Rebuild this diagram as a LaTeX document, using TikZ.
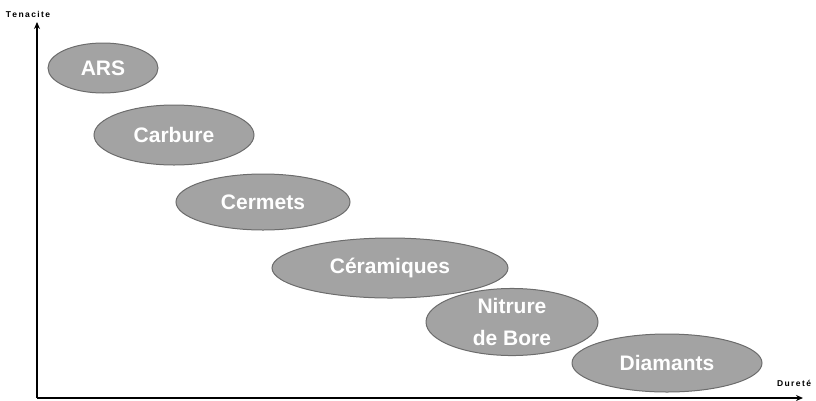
\documentclass[tikz,border=0pt]{standalone}
\usepackage{fontspec}
\setmainfont{Liberation Sans}
\usetikzlibrary{shapes.geometric,arrows.meta}
\begin{document}
\begin{tikzpicture}[x=1pt,y=-1pt,
  blob/.style={ellipse,draw=gray!85!black,line width=1pt,fill=gray!72,inner sep=0pt,
    text=white,font=\bfseries\fontsize{21}{22}\selectfont,align=center},
  axis/.style={line width=1.4pt,-{Stealth[length=7pt,width=6pt]}},
  lab/.style={font=\bfseries\fontsize{8.5}{9}\selectfont,inner sep=0pt}]
\useasboundingbox (0,0) rectangle (816,400);
\coordinate (o) at (37,398);
\coordinate (ytip) at (37,22);
\coordinate (xtip) at (803,398);
\draw[axis] (o) -- (ytip);
\draw[axis] (o) -- (xtip);
\node[lab] (ten) at (28,14) {T\,e\,n\,a\,c\,i\,t\,e};
\node[lab] (dur) at (794,383) {D\,u\,r\,e\,t\,é};
\node[blob,minimum width=110pt,minimum height=50pt] (ars) at (103,68) {ARS};
\node[blob,minimum width=160pt,minimum height=60pt] (car) at (174,135) {Carbure};
\node[blob,minimum width=174pt,minimum height=56pt] (cer) at (263,202) {Cermets};
\node[blob,minimum width=236pt,minimum height=60pt] (cera) at (390,268) {Céramiques};
\node[blob,minimum width=172pt,minimum height=60pt] (nit) at (512,322) {Nitrure\\[10pt]de Bore};
\node[blob,minimum width=190pt,minimum height=58pt] (dia) at (667,363) {Diamants};
\end{tikzpicture}
\end{document}
